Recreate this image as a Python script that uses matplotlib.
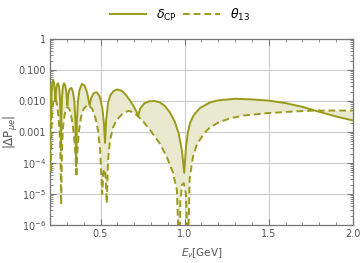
import numpy as np
import matplotlib
matplotlib.use('Agg')
import matplotlib.pyplot as plt
from matplotlib import ticker

# energies (GeV) and log10 |dP|
E_dcp = [0.200, 0.203, 0.206, 0.209, 0.213, 0.218, 0.223, 0.228, 0.232,
         0.236, 0.242, 0.248, 0.254, 0.259, 0.263, 0.265,
         0.267, 0.271, 0.276, 0.283, 0.290, 0.297, 0.303,
         0.308, 0.316, 0.327, 0.337, 0.345, 0.351, 0.355,
         0.359, 0.366, 0.375, 0.390, 0.405, 0.420, 0.435,
         0.445, 0.460, 0.477, 0.495, 0.510, 0.520, 0.527,
         0.534, 0.545, 0.560, 0.580, 0.600, 0.625, 0.650, 0.675, 0.700, 0.715, 0.724,
         0.735, 0.760, 0.790, 0.820, 0.850, 0.880, 0.910, 0.940, 0.965, 0.984, 0.998,
         1.008, 1.020, 1.033, 1.050, 1.063, 1.093, 1.150, 1.200, 1.300, 1.400,
         1.500, 1.600, 1.700, 1.800, 1.900, 2.000]
logP_dcp = [-1.50, -1.75, -2.60, -1.75, -1.45, -1.32, -1.40, -1.65, -2.00,
            -1.62, -1.47, -1.43, -1.55, -1.90, -2.60, -3.60,
            -2.60, -1.90, -1.55, -1.43, -1.50, -1.72, -2.15,
            -1.80, -1.62, -1.58, -1.72, -2.05, -2.70, -4.10,
            -2.70, -2.00, -1.65, -1.45, -1.50, -1.72, -2.15,
            -1.90, -1.75, -1.72, -1.85, -2.20, -2.70, -3.35,
            -2.60, -2.05, -1.80, -1.67, -1.63, -1.67, -1.80, -1.98, -2.20, -2.36, -2.50,
            -2.25, -2.08, -2.01, -2.00, -2.04, -2.15, -2.35, -2.65, -3.05, -3.60, -4.32,
            -3.50, -3.00, -2.70, -2.50, -2.40, -2.22, -2.05, -1.98, -1.93, -1.95,
            -1.99, -2.07, -2.19, -2.35, -2.50, -2.63]

E_t13 = [0.200, 0.203, 0.205,
         0.208, 0.213, 0.220, 0.228, 0.237, 0.246, 0.255, 0.261, 0.266,
         0.271, 0.278, 0.288, 0.298, 0.307, 0.318, 0.330, 0.342, 0.351, 0.357,
         0.363, 0.372, 0.385, 0.400, 0.425, 0.450, 0.470, 0.485, 0.498, 0.510,
         0.517, 0.525, 0.531, 0.537,
         0.545, 0.557, 0.575, 0.597, 0.630, 0.664, 0.695, 0.724, 0.755, 0.795,
         0.850, 0.894, 0.930, 0.954, 0.968,
         0.975, 0.985, 0.995, 1.008, 1.020,
         1.030, 1.050, 1.070, 1.090, 1.120, 1.150, 1.200, 1.270, 1.350, 1.500,
         1.650, 1.770, 1.900, 2.000]
logP_t13 = [-2.60, -3.10, -4.30,
            -3.00, -2.35, -2.00, -1.91, -2.00, -2.30, -2.85, -3.50, -5.35,
            -3.50, -2.80, -2.40, -2.23, -2.20, -2.30, -2.60, -3.10, -3.70, -4.45,
            -3.60, -2.95, -2.50, -2.25, -2.12, -2.25, -2.55, -2.95, -3.60, -5.00,
            -4.30, -4.20, -4.50, -5.30,
            -3.90, -3.26, -2.85, -2.61, -2.42, -2.32, -2.36, -2.50, -2.67, -2.94,
            -3.35, -3.80, -4.30, -4.87, -7.00,
            -5.20, -4.70, -4.65, -5.00, -7.00,
            -4.50, -3.80, -3.45, -3.26, -3.02, -2.86, -2.70, -2.56, -2.47, -2.39,
            -2.34, -2.31, -2.31, -2.31]

yticks = [1, 0.1, 0.01, 0.001, 1e-4, 1e-5, 1e-6]
ylabels = ['1', '0.100', '0.010', '0.001', '$10^{-4}$', '$10^{-5}$', '$10^{-6}$']
xticks = [0.5, 1.0, 1.5, 2.0]
xlabels = ['0.5', '1.0', '1.5', '2.0']

line_c = '#9a9a1c'
fill_c = '#e9e9cf'
grey = '#555555'

P_dcp = 10.0 ** np.array(logP_dcp)
P_t13 = 10.0 ** np.array(logP_t13)

fig = plt.figure(figsize=(3.6, 2.63), dpi=100)
ax = fig.add_axes([0.139, 0.1445, 0.841, 0.7075])

# shaded band between the two curves
ax.fill(np.concatenate([E_dcp, E_t13[::-1]]),
        np.concatenate([P_dcp, P_t13[::-1]]),
        color=fill_c, lw=0, zorder=1)
ax.plot(E_dcp, P_dcp, color=line_c, lw=1.4, label=r'$\delta_{\rm CP}$', zorder=3)
ax.plot(E_t13, P_t13, color=line_c, lw=1.4, ls=(0, (3.5, 2)),
        label=r'$\theta_{13}$', zorder=3)

ax.set_yscale('log')
ax.set_xlim(0.2, 2.0)
ax.set_ylim(1e-6, 1)

ax.yaxis.set_major_locator(ticker.FixedLocator(yticks))
ax.yaxis.set_major_formatter(ticker.FixedFormatter(ylabels))
ax.yaxis.set_minor_locator(ticker.LogLocator(base=10, subs=np.arange(2, 10)))
ax.yaxis.set_minor_formatter(ticker.NullFormatter())
ax.set_xticks(xticks)
ax.set_xticklabels(xlabels)
ax.xaxis.set_minor_locator(ticker.MultipleLocator(0.1))

ax.grid(True, which='major', color='#cccccc', lw=0.8, zorder=0)
ax.set_axisbelow(True)
for s in ax.spines.values():
    s.set_color('#777777')
    s.set_linewidth(0.9)
ax.tick_params(which='both', direction='in', top=True, right=True,
               colors='#777777', labelcolor=grey, labelsize=7)
ax.tick_params(which='major', length=4, pad=3)
ax.tick_params(which='minor', length=2)

ax.set_ylabel(r'$|\Delta \mathrm{P}_{\mu e}|$', color=grey, fontsize=8.5)
ax.yaxis.set_label_coords(-0.1, 0.5)
ax.set_xlabel(r'$E_\nu$[GeV]', color=grey, fontsize=7.5, labelpad=5)

fig.legend(loc='center', bbox_to_anchor=(0.5, 0.945), ncol=2, frameon=False,
           fontsize=9, handlelength=2.9, columnspacing=0.5, handletextpad=0.8)

fig.savefig('out.png', dpi=100)
